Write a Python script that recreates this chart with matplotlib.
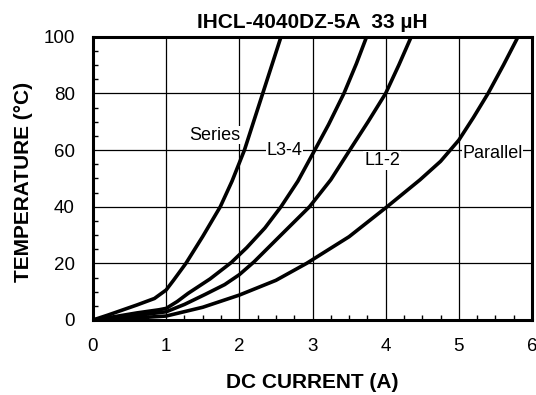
import matplotlib
matplotlib.use('Agg')
import matplotlib.pyplot as plt
from matplotlib.ticker import MultipleLocator

plt.rcParams['font.family'] = ['Liberation Sans', 'DejaVu Sans']

# Curve data (DC current in A, temperature rise in C)
series_x = [0, 0.2, 0.4, 0.6, 0.84, 1.0, 1.1, 1.27, 1.5, 1.74, 1.9, 2.07, 2.32, 2.57]
series_y = [0, 1.7, 3.5, 5.3, 7.6, 10.6, 14, 20, 29.5, 40, 49, 60, 80, 100]

l34_x = [0, 0.3, 0.6, 0.9, 1.0, 1.15, 1.3, 1.6, 1.89, 2.1, 2.35, 2.57, 2.8, 3.0, 3.22, 3.43, 3.6, 3.74]
l34_y = [0, 1.2, 2.5, 3.6, 4.1, 6.5, 9.4, 14.5, 20.3, 25.5, 32.5, 40, 49, 58.5, 69, 80, 90.5, 100]

l12_x = [0, 0.5, 1.0, 1.25, 1.53, 1.8, 2.0, 2.2, 2.55, 2.96, 3.25, 3.51, 3.76, 4.0, 4.18, 4.35]
l12_y = [0, 1.3, 2.9, 5.5, 9.0, 12.5, 16, 20.5, 29.5, 40, 49.5, 60, 70, 80, 90, 100]

par_x = [0, 0.5, 1.0, 1.5, 2.0, 2.5, 2.92, 3.5, 4.02, 4.47, 4.75, 5.0, 5.2, 5.4, 5.61, 5.81]
par_y = [0, 0.6, 1.4, 4.5, 8.8, 14, 20, 29.4, 40, 49.5, 56, 63.5, 71.5, 80, 90, 100]

curve_labels = ['Series', 'L3-4', 'L1-2', 'Parallel']
label_x = [1.67, 2.62, 3.95, 5.46]
label_y = [65.3, 59.8, 56.3, 58.6]

x_ticks = [0, 1, 2, 3, 4, 5, 6]
y_ticks = [0, 20, 40, 60, 80, 100]

fig = plt.figure(figsize=(5.36, 3.95), dpi=100)
ax = fig.add_axes([93 / 536, 1 - 320 / 395, 439 / 536, (320 - 36.7) / 395])

for xs, ys in [(series_x, series_y), (l34_x, l34_y), (l12_x, l12_y), (par_x, par_y)]:
    ax.plot(xs, ys, color='black', linewidth=2.6, solid_joinstyle='round', zorder=3)

for txt, tx, ty in zip(curve_labels, label_x, label_y):
    ax.text(tx, ty, txt, fontsize=13, ha='center', va='center', zorder=4,
            bbox=dict(facecolor='white', edgecolor='none', pad=0.5))

ax.set_xlim(0, 6)
ax.set_ylim(0, 100)
ax.set_xticks(x_ticks)
ax.set_yticks(y_ticks)
ax.xaxis.set_minor_locator(MultipleLocator(0.25))
ax.yaxis.set_minor_locator(MultipleLocator(5))
ax.tick_params(which='major', length=0, labelsize=13.5)
ax.tick_params(axis='x', which='major', pad=13)
ax.tick_params(axis='y', which='major', pad=13)
ax.tick_params(which='minor', direction='in', length=3.5, width=1)
ax.grid(True, which='major', color='black', linewidth=0.9)
for sp in ax.spines.values():
    sp.set_linewidth(2.2)

ax.set_xlabel('DC CURRENT (A)', fontsize=15, fontweight='bold', va='center')
ax.xaxis.set_label_coords(0.5, -0.222)
ax.set_ylabel('TEMPERATURE (°C)', fontsize=15, fontweight='bold', va='center')
ax.yaxis.set_label_coords(-0.159, 0.487)
ax.set_title('IHCL-4040DZ-5A  33 µH', fontsize=15, fontweight='bold', pad=6.5)

fig.savefig('out.png', dpi=100)
